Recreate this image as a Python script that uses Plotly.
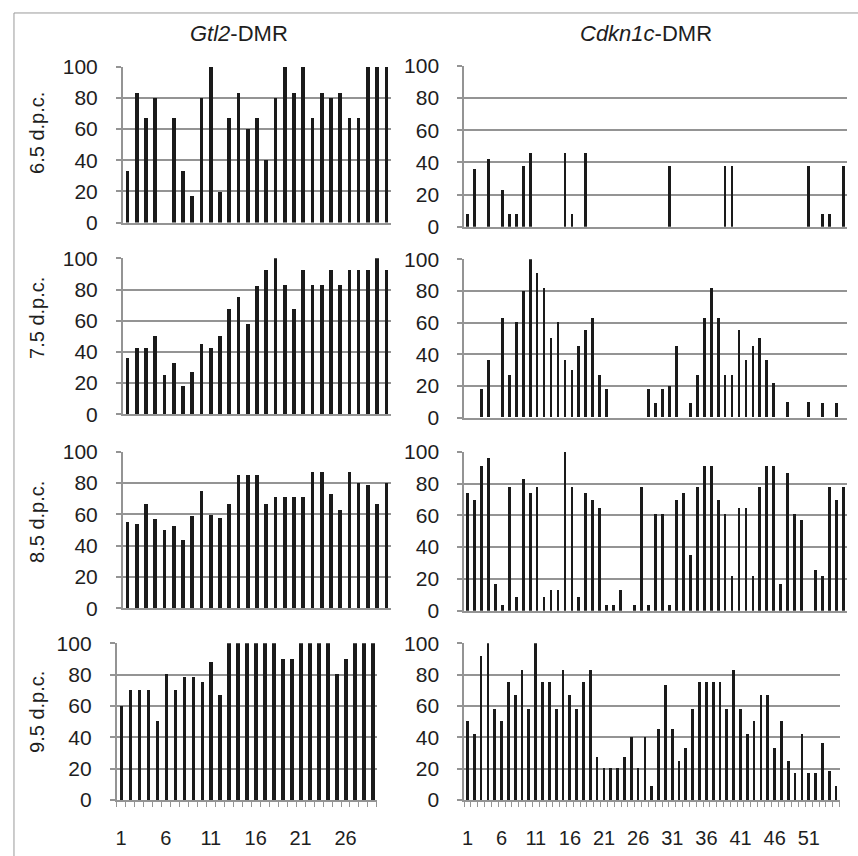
import plotly.graph_objects as go

W, H = 858, 856

# ---- data ----
gtl2_cpg = list(range(1, 30))
cdkn_cpg = list(range(1, 56))

gtl2_65 = [33, 83, 67, 80, 0, 67, 33, 17, 80, 100, 20, 67, 83, 60, 67, 40, 80, 100, 83, 100,
           67, 83, 80, 83, 67, 67, 100, 100, 100]
gtl2_75 = [36, 42, 42, 50, 25, 33, 18, 27, 45, 42, 50, 67, 75, 58, 82, 92, 100, 83, 67, 92,
           83, 83, 92, 83, 92, 92, 92, 100, 92]
gtl2_85 = [55, 54, 67, 57, 50, 53, 44, 59, 75, 60, 58, 67, 85, 85, 85, 67, 71, 71, 71, 71,
           87, 87, 73, 63, 87, 80, 79, 67, 80]
gtl2_95 = [60, 70, 70, 70, 50, 80, 70, 78, 78, 75, 88, 67, 100, 100, 100, 100, 100, 100, 90, 90,
           100, 100, 100, 100, 80, 90, 100, 100, 100]

cdkn_65 = [8, 36, 0, 42, 0, 23, 8, 8, 38, 46, 0, 0, 0, 0, 46, 8, 0, 46, 0, 0,
           0, 0, 0, 0, 0, 0, 0, 0, 0, 38, 0, 0, 0, 0, 0, 0, 0, 38, 38, 0,
           0, 0, 0, 0, 0, 0, 0, 0, 0, 38, 0, 8, 8, 0, 38]
cdkn_75 = [0, 0, 18, 36, 0, 63, 27, 60, 80, 100, 91, 82, 50, 60, 36, 30, 45, 55, 63, 27,
           18, 0, 0, 0, 0, 0, 18, 9, 18, 20, 45, 0, 9, 27, 63, 82, 63, 27, 27, 55,
           36, 45, 50, 36, 22, 0, 10, 0, 0, 10, 0, 9, 0, 9, 0]
cdkn_85 = [74, 70, 91, 96, 17, 4, 78, 9, 83, 74, 78, 9, 13, 13, 100, 78, 9, 74, 70, 65,
           4, 4, 13, 0, 4, 78, 4, 61, 61, 4, 70, 74, 35, 78, 91, 91, 70, 61, 22, 65,
           65, 22, 78, 91, 91, 17, 87, 61, 57, 0, 26, 22, 78, 70, 78]
cdkn_95 = [50, 42, 92, 100, 58, 50, 75, 67, 83, 58, 100, 75, 75, 58, 83, 67, 58, 75, 83, 27,
           20, 20, 20, 27, 40, 20, 40, 9, 45, 73, 45, 25, 33, 58, 75, 75, 75, 75, 58, 83,
           58, 42, 50, 67, 67, 33, 50, 25, 17, 42, 17, 17, 36, 18, 9]

stages = ["6.5 d.p.c.", "7.5 d.p.c.", "8.5 d.p.c.", "9.5 d.p.c."]
gene_titles = ["<i>Gtl2</i>-DMR", "<i>Cdkn1c</i>-DMR"]
y_ticks = [0, 20, 40, 60, 80, 100]
gtl2_xticks = [1, 6, 11, 16, 21, 26]
cdkn_xticks = [1, 6, 11, 16, 21, 26, 31, 36, 41, 46, 51]

gtl2_rows = [gtl2_65, gtl2_75, gtl2_85, gtl2_95]
cdkn_rows = [cdkn_65, cdkn_75, cdkn_85, cdkn_95]

# ---- layout geometry (target pixels in the picture) ----
left_x = [(121, 389.6)] * 3 + [(114.8, 375.8)]
right_x = [(463.2, 847)] * 3 + [(463.2, 839.5)]
left_y = [(66.7, 222.5), (258.3, 414.3), (451.7, 608.3), (643.3, 800)]
right_y = [(66, 226.7), (259.3, 417.7), (451.7, 610.7), (643.3, 800)]
label_y = [133, 318, 522, 712]
title_y = 33

# the rendered page shows up vertically as: shown_y = Y_OFF + Y_SCALE * page_y
Y_OFF, Y_SCALE = 12.0, 833.0 / 856.0


def page_y(shown):
    return (shown - Y_OFF) / Y_SCALE


GRID = "#949494"
FONT = "Liberation Sans, Arial, Helvetica, sans-serif"
TXT = "#1e1e1e"

fig = go.Figure()
layout = dict(
    width=W, height=H, margin=dict(l=0, r=0, t=0, b=0, pad=0), autosize=False,
    paper_bgcolor="white", plot_bgcolor="white",
    showlegend=False, barmode="overlay", bargap=0,
    font=dict(family=FONT, color=TXT),
)


def px_dom_x(a, b):
    return [a / W, b / W]


def px_dom_y(top, bot):
    return [max(0.0, 1 - page_y(bot) / H), min(1.0, 1 - page_y(top) / H)]


idx = 0
for r in range(4):
    for c in range(2):
        idx += 1
        xa = "x" if idx == 1 else f"x{idx}"
        ya = "y" if idx == 1 else f"y{idx}"
        if c == 0:
            xs, vals, n, ticks = gtl2_cpg, gtl2_rows[r], 29, gtl2_xticks
            xd, yd = left_x[r], left_y[r]
        else:
            xs, vals, n, ticks = cdkn_cpg, cdkn_rows[r], 55, cdkn_xticks
            xd, yd = right_x[r], right_y[r]
        fig.add_trace(go.Bar(x=xs, y=vals, xaxis=xa, yaxis=ya, width=0.4,
                             marker=dict(color="#1a1a1a", line=dict(width=0))))
        bottom = (r == 3)
        xkey = "xaxis" if idx == 1 else f"xaxis{idx}"
        ykey = "yaxis" if idx == 1 else f"yaxis{idx}"
        xaxis = dict(domain=px_dom_x(*xd), anchor=ya, range=[0.5, n + 0.5],
                     showgrid=False, zeroline=False, showline=True,
                     linecolor=GRID, linewidth=1.5, fixedrange=True)
        if bottom:
            xaxis.update(tickmode="array", tickvals=ticks, ticktext=[str(t) for t in ticks],
                         ticks="", showticklabels=True,
                         tickfont=dict(size=20, family=FONT, color=TXT),
                         ticklabelstandoff=19,
                         minor=dict(ticks="outside", tick0=0.5, dtick=1, ticklen=5,
                                    tickcolor=GRID, tickwidth=1.2, showgrid=False))
        else:
            xaxis.update(showticklabels=False, ticks="")
        yaxis = dict(domain=px_dom_y(*yd), anchor=xa, range=[0, 100],
                     tick0=0, dtick=20,
                     showgrid=True, gridcolor=GRID, gridwidth=2,
                     zeroline=False, showline=True, linecolor=GRID, linewidth=1.5,
                     ticks="outside", ticklen=5, tickcolor=GRID, tickwidth=1.5,
                     tickfont=dict(size=21, family=FONT, color=TXT),
                     ticklabelstandoff=14, fixedrange=True)
        layout[xkey] = xaxis
        layout[ykey] = yaxis

annotations = []
for t, cx in zip(gene_titles, [238, 646]):
    annotations.append(dict(text=t, x=cx / W, y=1 - page_y(title_y) / H,
                            xref="paper", yref="paper",
                            showarrow=False, xanchor="center", yanchor="middle",
                            font=dict(size=22, family=FONT, color=TXT)))
for s, ly in zip(stages, label_y):
    annotations.append(dict(text=s, x=35 / W, y=1 - page_y(ly) / H,
                            xref="paper", yref="paper",
                            showarrow=False, xanchor="center", yanchor="middle",
                            textangle=-90, font=dict(size=20, family=FONT, color=TXT)))
layout["annotations"] = annotations
layout["shapes"] = [dict(type="rect", xref="paper", yref="paper",
                         x0=12 / W, x1=1.02, y0=-0.02, y1=1 - 1 / H,
                         line=dict(color="#9a9a9a", width=1), fillcolor="rgba(0,0,0,0)",
                         layer="above")]

fig.update_layout(**layout)
fig.write_html("out.html", config={"displayModeBar": False},
               post_script="document.body.style.margin='0';document.body.style.overflow='hidden';")
